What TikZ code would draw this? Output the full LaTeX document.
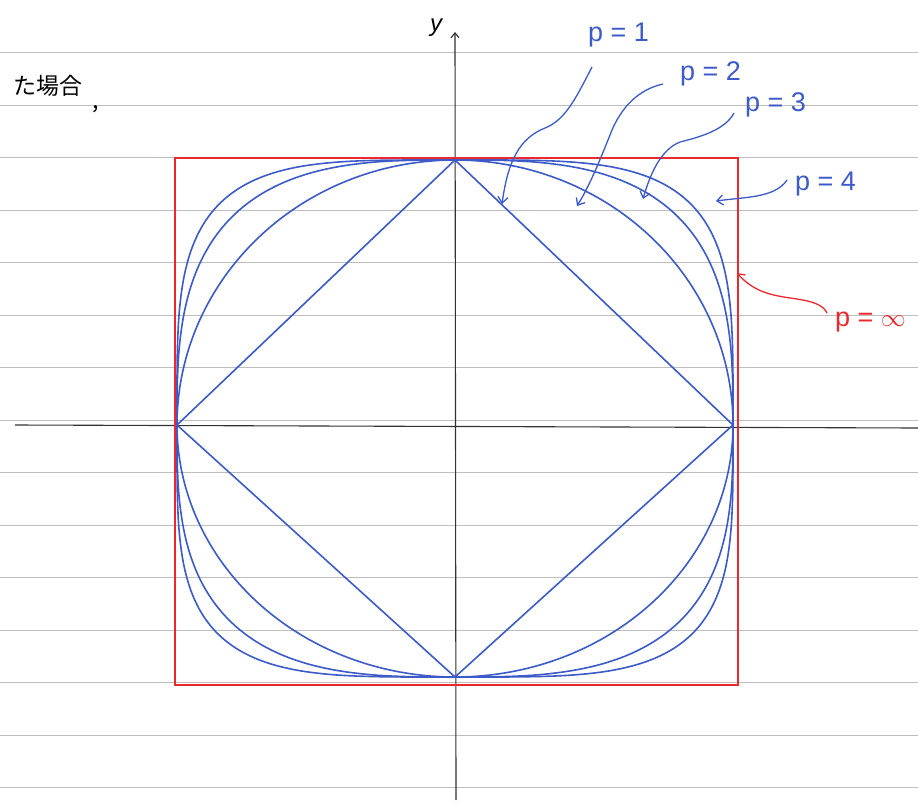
\documentclass[tikz,border=0pt]{standalone}
\usepackage{fontspec}
\setmainfont{Liberation Sans}
\newfontfamily\jpfont{Noto Sans CJK JP}
\usetikzlibrary{arrows.meta}
\definecolor{penblue}{RGB}{60,90,200}
\definecolor{penred}{RGB}{235,40,45}
\definecolor{rulegray}{RGB}{190,190,190}
\definecolor{axisgray}{RGB}{50,50,50}
\begin{document}
\begin{tikzpicture}[x=1pt,y=-1pt,
  ruleline/.style={rulegray,line width=0.9pt},
  axisline/.style={axisgray,line width=1.1pt},
  curve/.style={penblue,line width=1.6pt,line join=round},
  redpen/.style={penred,line width=1.4pt},
  lab/.style={penblue,font=\fontsize{27}{27}\selectfont,inner sep=0pt,anchor=base west},
  redlab/.style={penred,font=\fontsize{27}{27}\selectfont,inner sep=0pt,anchor=base west},
  arr/.style={penblue,line width=1.3pt,-{Straight Barb[length=6pt,width=10pt]}},
  redarr/.style={penred,line width=1.3pt,-{Straight Barb[length=6pt,width=10pt]}}]
\useasboundingbox (0,0) rectangle (918,806);
\fill[white] (0,0) rectangle (918,806);
% ruled paper
\foreach \k in {1,...,15} \draw[ruleline] (0,52.5*\k) -- (918,52.5*\k);
% axes
\coordinate (xl) at (15,425);
\coordinate (xr) at (918,428);
\coordinate (yb) at (456,800);
\coordinate (yt) at (455,32);
\draw[axisline] (xl) -- (xr);
\draw[axisline,-{Straight Barb[length=5pt,width=8pt]}] (yb) -- (yt);
\node[font=\fontsize{24}{24}\selectfont\itshape,inner sep=0pt,anchor=base] (ylab) at (436,31) {y};
% text top left
\node[font=\jpfont\fontsize{23}{23}\selectfont,inner sep=0pt,anchor=base west] (jp) at (13,94) {た場合\hspace{10pt}\raisebox{-14pt}{,}};
% p = infinity
\draw[redpen] (175,158) rectangle (738,685);
% p = 1,2,3,4 curves
\foreach \sx/\sy/\ry in {1/1/265, -1/1/265, 1/-1/252, -1/-1/252}{
  \begin{scope}[shift={(455,425)}, xscale=278*\sx, yscale=\ry*\sy]
    \foreach \p in {1,2,3,4}
      \draw[curve] plot[domain=0:90,samples=91]
        ({pow(max(cos(\x),0.000001),2/\p)},{-pow(max(sin(\x),0.000001),2/\p)});
  \end{scope}
}
% labels
\node[lab] (l1) at (588,41) {p = 1};
\node[lab] (l2) at (680,80) {p = 2};
\node[lab] (l3) at (745,111) {p = 3};
\node[lab] (l4) at (795,190) {p = 4};
\node[redlab] (linf) at (835,326) {p = $\infty$};
% arrow ends
\coordinate (a1s) at (592,67);  \coordinate (a1e) at (502,204);
\coordinate (a2s) at (663,84);  \coordinate (a2e) at (577,206);
\coordinate (a3s) at (734,113); \coordinate (a3e) at (643,199);
\coordinate (a4s) at (787,180); \coordinate (a4e) at (716,201);
\coordinate (a5s) at (827,313); \coordinate (a5e) at (737,273);
\draw[arr] (a1s) .. controls (575,100) and (565,120) .. (545,128) .. controls (520,138) and (508,160) .. (a1e);
\draw[arr] (a2s) .. controls (645,88) and (625,100) .. (612,130) .. controls (600,160) and (590,185) .. (a2e);
\draw[arr] (a3s) .. controls (725,130) and (700,137) .. (680,142) .. controls (660,150) and (650,175) .. (a3e);
\draw[arr] (a4s) .. controls (775,198) and (745,197) .. (a4e);
\draw[redarr] (a5s) .. controls (820,298) and (790,300) .. (770,294) .. controls (755,290) and (745,282) .. (a5e);
\end{tikzpicture}
\end{document}
